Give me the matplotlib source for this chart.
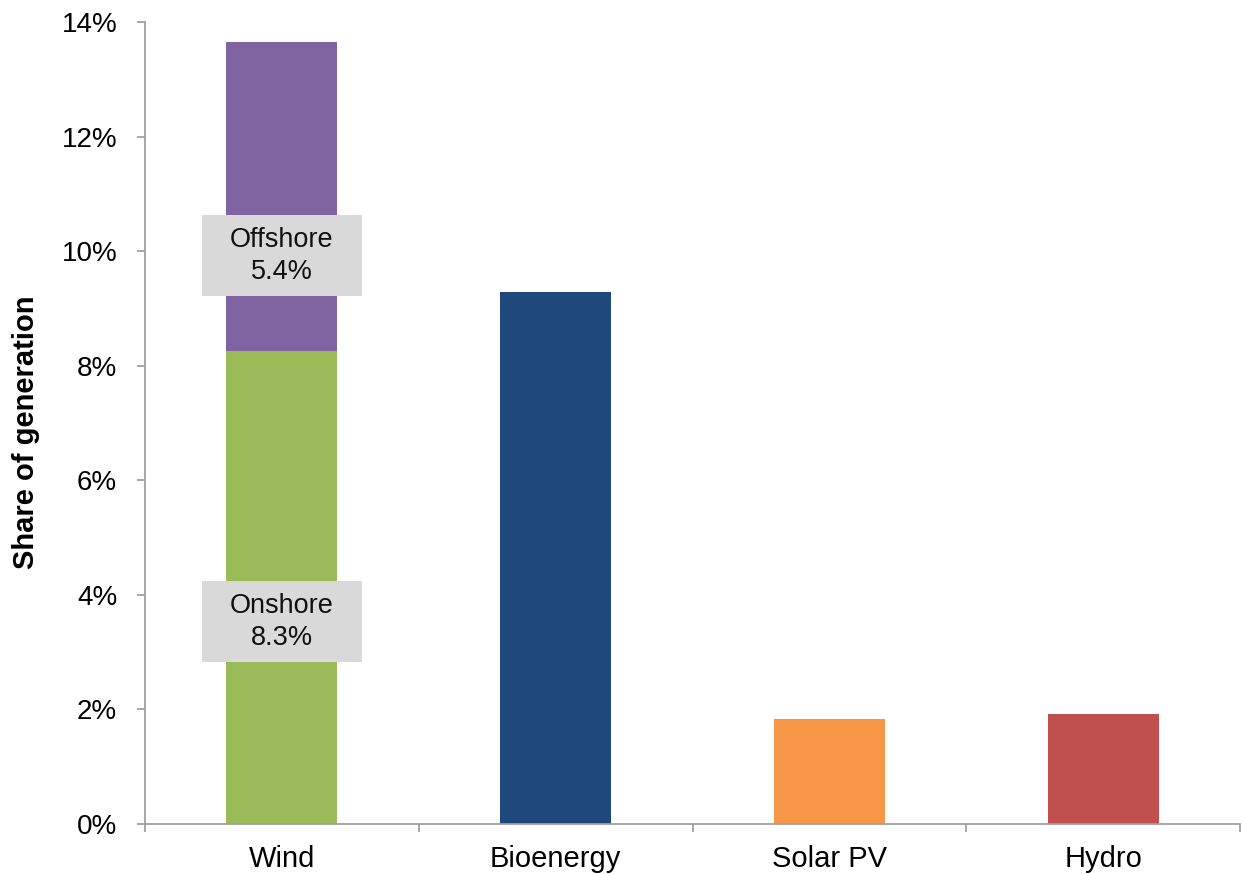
import matplotlib
matplotlib.use("Agg")
import matplotlib.pyplot as plt
from matplotlib.patches import Rectangle
from matplotlib.ticker import FuncFormatter, FixedLocator

plt.rcParams['font.family'] = ['Liberation Sans', 'DejaVu Sans']

categories = ["Wind", "Bioenergy", "Solar PV", "Hydro"]
onshore = 8.25
offshore = 5.4
other_values = [9.28, 1.83, 1.92]   # Bioenergy, Solar PV, Hydro
other_colors = ["#1F497D", "#F79646", "#C0504D"]
wind_labels = [("Offshore\n5.4%", 9.92), ("Onshore\n8.3%", 3.53)]

fig = plt.figure(figsize=(12.44, 8.74), dpi=100)
ax = fig.add_axes([145/1244, 50/874, 1095/1244, 802/874])

w = 0.405
ax.bar(0, onshore, width=w, color="#9BBB59", zorder=2)
ax.bar(0, offshore, bottom=onshore, width=w, color="#8064A2", zorder=2)
ax.bar([1, 2, 3], other_values, width=w, color=other_colors, zorder=2)

box_w = 0.584
box_h = 1.41
for txt, yc in wind_labels:
    ax.add_patch(Rectangle((0 - box_w/2, yc - box_h/2), box_w, box_h,
                           facecolor="#D9D9D9", edgecolor="none", zorder=3))
    ax.text(0, yc, txt, ha="center", va="center", fontsize=19.5,
            linespacing=1.32, color="#111111", zorder=4)

ax.set_xlim(-0.5, 3.5)
ax.set_ylim(0, 14)
ax.set_yticks(range(0, 15, 2))
ax.yaxis.set_major_formatter(FuncFormatter(lambda v, p: f"{int(v)}%"))
ax.set_xticks(range(4))
ax.set_xticklabels(categories)
ax.xaxis.set_minor_locator(FixedLocator([-0.5, 0.5, 1.5, 2.5, 3.5]))

for s in ["top", "right"]:
    ax.spines[s].set_visible(False)
for s in ["left", "bottom"]:
    ax.spines[s].set_color("#A0A0A0")
    ax.spines[s].set_linewidth(1.3)

ax.tick_params(axis="y", direction="out", length=6, width=1.3, color="#A0A0A0",
               labelsize=20, pad=14)
ax.tick_params(axis="x", which="major", length=0, labelsize=21, pad=15)
ax.tick_params(axis="x", which="minor", direction="out", length=6, width=1.3,
               color="#A0A0A0")

ax.set_ylabel("Share of generation", fontsize=21, fontweight="bold")
ax.yaxis.set_label_coords(-0.096, 0.488)

fig.savefig("out.png", dpi=100)
